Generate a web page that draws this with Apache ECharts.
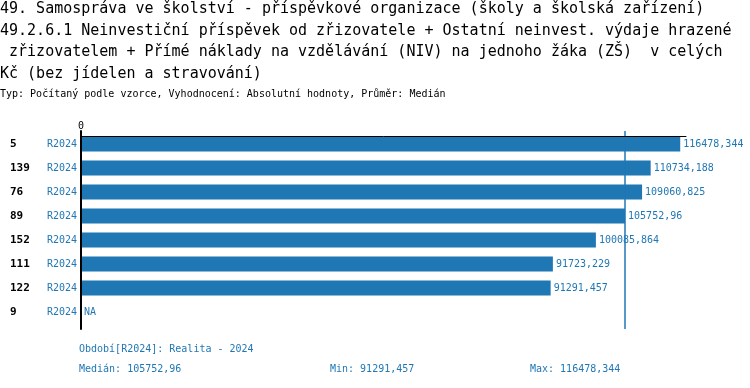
<!DOCTYPE html>
<html><head><meta charset="utf-8">
<script src="https://cdn.jsdelivr.net/npm/echarts@6/dist/echarts.min.js"></script>
<style>html,body{margin:0;padding:0;background:#fff}#c{width:750px;height:388px}</style>
</head><body><div id="c"></div>
<script>
const categories = ['5','139','76','89','152','111','122','9'];
const periods = ['R2024','R2024','R2024','R2024','R2024','R2024','R2024','R2024'];
const values = [116478.344,110734.188,109060.825,105752.96,100085.864,91723.229,91291.457,null];
const titleLines = [
 '49. Samospráva ve školství - příspěvkové organizace (školy a školská zařízení)',
 '49.2.6.1 Neinvestiční příspěvek od zřizovatele + Ostatní neinvest. výdaje hrazené',
 ' zřizovatelem + Přímé náklady na vzdělávání (NIV) na jednoho žáka (ZŠ)  v celých',
 'Kč (bez jídelen a stravování)'
];
const subtitle = 'Typ: Počítaný podle vzorce, Vyhodnocení: Absolutní hodnoty, Průměr: Medián';
const periodNote = 'Období[R2024]: Realita - 2024';

const MONO = '"DejaVu Sans Mono", "Liberation Mono", monospace';
const BLUE = '#1f77b4';
const fmt = v => String(v).replace('.', ',');
const valid = values.filter(v => v != null).slice().sort((a,b)=>a-b);
const median = valid.length % 2 ? valid[(valid.length-1)/2] : (valid[valid.length/2-1]+valid[valid.length/2])/2;
const vmin = valid[0], vmax = valid[valid.length-1];
const XMAX = 117600;

const chart = echarts.init(document.getElementById('c'));
chart.setOption({
  animation: false,
  title: [
    {text: titleLines.join('\n'), left: 0, top: -1.5, padding: 0,
     textStyle: {fontFamily: MONO, fontSize: 15, fontWeight: 'normal', color: '#000', lineHeight: 21.6}},
    {text: subtitle, left: 0, top: 89, padding: 0,
     textStyle: {fontFamily: MONO, fontSize: 10, fontWeight: 'normal', color: '#000'}},
    {text: periodNote, left: 79, top: 344, padding: 0,
     textStyle: {fontFamily: MONO, fontSize: 10, fontWeight: 'normal', color: BLUE}},
    {text: 'Medián: ' + fmt(median), left: 79, top: 364, padding: 0,
     textStyle: {fontFamily: MONO, fontSize: 10, fontWeight: 'normal', color: BLUE}},
    {text: 'Min: ' + fmt(vmin), left: 330, top: 364, padding: 0,
     textStyle: {fontFamily: MONO, fontSize: 10, fontWeight: 'normal', color: BLUE}},
    {text: 'Max: ' + fmt(vmax), left: 530, top: 364, padding: 0,
     textStyle: {fontFamily: MONO, fontSize: 10, fontWeight: 'normal', color: BLUE}}
  ],
  grid: [
    {left: 81, width: 605, top: 132, height: 192},
    {left: 81, width: 605, top: 131, height: 198}
  ],
  xAxis: [
    {type: 'value', gridIndex: 0, position: 'top', offset: -4, min: 0, max: XMAX, interval: XMAX,
     axisLine: {show: true, lineStyle: {color: '#000', width: 1}}, z: 20,
     axisTick: {show: false}, splitLine: {show: false},
     axisLabel: {margin: 5, fontFamily: MONO, fontSize: 10, color: '#000',
       formatter: v => v === 0 ? '0' : ''}},
    {type: 'value', gridIndex: 1, min: 0, max: XMAX, show: false}
  ],
  yAxis: [
    {type: 'category', gridIndex: 0, inverse: true, data: categories,
     axisLine: {show: false}, axisTick: {show: false},
     axisLabel: {margin: 4, align: 'right',
       formatter: (v, i) => '{a|' + v + '}{b|' + periods[i] + '}',
       rich: {
         a: {fontFamily: MONO, fontSize: 11, fontWeight: 'bold', color: '#000', width: 37, align: 'left'},
         b: {fontFamily: MONO, fontSize: 10, color: BLUE}
       }}},
    {type: 'value', gridIndex: 1, min: 0, max: 1, z: 20,
     axisLine: {show: true, lineStyle: {color: '#000', width: 2}},
     axisTick: {show: false}, axisLabel: {show: false}, splitLine: {show: false}}
  ],
  series: [
    {type: 'bar', xAxisIndex: 0, yAxisIndex: 0, barWidth: 15, z: 2,
     itemStyle: {color: BLUE},
     data: values.map(v => v == null ? {value: 0, na: true} : v),
     label: {show: true, position: 'right', distance: 3, fontFamily: MONO, fontSize: 10, color: BLUE,
       formatter: p => (p.data && p.data.na) ? 'NA' : fmt(p.value)}},
    {type: 'scatter', xAxisIndex: 1, yAxisIndex: 1, data: [], silent: true, z: 10,
     itemStyle: {color: BLUE},
     markLine: {symbol: 'none', silent: true, label: {show: false}, z: 10,
       lineStyle: {color: BLUE, width: 1.5, type: 'solid', opacity: 1},
       emphasis: {disabled: true},
       data: [{xAxis: median}]}}
  ]
});
</script></body></html>
